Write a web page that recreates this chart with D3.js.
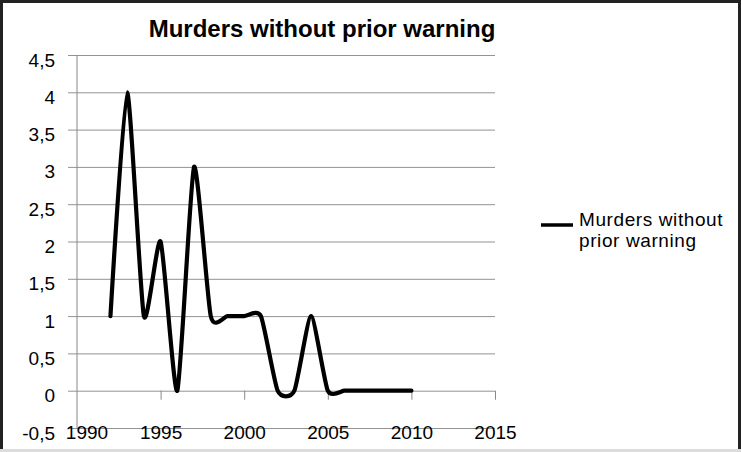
<!DOCTYPE html>
<html>
<head>
<meta charset="utf-8">
<script src="https://cdn.jsdelivr.net/npm/d3@7"></script>
<style>
  html, body { margin: 0; padding: 0; background: #fff; }
  svg { display: block; }
  text { font-family: "Liberation Sans", Arial, Helvetica, sans-serif; fill: #000; }
</style>
</head>
<body>
<svg id="chart" width="741" height="452"></svg>
<script>
// Yearly counts of murders committed without prior warning
const years = [1992, 1993, 1994, 1995, 1996, 1997, 1998, 1999, 2000, 2001,
               2002, 2003, 2004, 2005, 2006, 2007, 2008, 2009, 2010];
const murders = [1, 4, 1, 2, 0, 3, 1, 1, 1, 1,
                 0, 0, 1, 0, 0, 0, 0, 0, 0];

const xTicks = [1990, 1995, 2000, 2005, 2010, 2015];
const yTicks = [-0.5, 0, 0.5, 1, 1.5, 2, 2.5, 3, 3.5, 4, 4.5];

const chartTitle = "Murders without prior warning";
const seriesName = ["Murders without", "prior warning"];

const W = 741, H = 452;
const svg = d3.select("#chart");

// white card with dark frame on three sides, light strip at the bottom
svg.append("rect").attr("x", 0).attr("y", 0).attr("width", W).attr("height", H).attr("fill", "#fff");
svg.append("rect").attr("x", 0).attr("y", 449).attr("width", W).attr("height", 3).attr("fill", "#dcdcdc");
svg.append("path")
  .attr("d", `M1.5,449 V1.5 H739.5 V449`)
  .attr("fill", "none").attr("stroke", "#222").attr("stroke-width", 3);

const x = d3.scaleLinear().domain([1990, 2015]).range([77, 495]);
const y = d3.scaleLinear().domain([-0.5, 4.5]).range([428, 55]);

const fmt = d => String(d).replace(".", ",");

// horizontal gridlines + value labels
const yAxis = svg.append("g")
  .attr("transform", `translate(${x(1990)},0)`)
  .call(d3.axisLeft(y).tickValues(yTicks).tickSize(0).tickPadding(0).tickFormat(fmt));
yAxis.select(".domain").remove();
yAxis.selectAll(".tick line")
  .attr("x1", -9).attr("x2", x(2015) - x(1990))
  .attr("stroke", "#939393").attr("stroke-width", 1);
yAxis.selectAll(".tick text")
  .attr("x", -22).attr("y", 11).attr("dy", null)
  .attr("font-size", 19).attr("text-anchor", "end");

// vertical axis line
svg.append("line")
  .attr("x1", x(1990)).attr("x2", x(1990))
  .attr("y1", y(4.5)).attr("y2", y(-0.5))
  .attr("stroke", "#888").attr("stroke-width", 1);

// year ticks hanging from the zero line
const xTickAxis = svg.append("g")
  .attr("transform", `translate(0,${y(0)})`)
  .call(d3.axisBottom(x).tickValues(xTicks.slice(1)).tickSize(9).tickFormat(""));
xTickAxis.select(".domain").remove();
xTickAxis.selectAll(".tick line").attr("stroke", "#888");

// year labels along the bottom gridline
const xLabelAxis = svg.append("g")
  .attr("transform", `translate(0,${y(-0.5)})`)
  .call(d3.axisBottom(x).tickValues(xTicks).tickSize(0).tickFormat(d3.format("d")));
xLabelAxis.select(".domain").remove();
xLabelAxis.selectAll(".tick line").remove();
xLabelAxis.selectAll(".tick text")
  .attr("y", 11).attr("dy", null)
  .attr("font-size", 19)
  .attr("dx", d => d === 1990 ? 9.5 : 0);

// smoothed series line
const line = d3.line()
  .x((d, i) => x(years[i]))
  .y(d => y(d))
  .curve(d3.curveCardinal.tension(0.4));

svg.append("path")
  .datum(murders)
  .attr("d", line)
  .attr("fill", "none")
  .attr("stroke", "#000")
  .attr("stroke-width", 4.2)
  .attr("stroke-linejoin", "round")
  .attr("stroke-linecap", "round");

// title
svg.append("text")
  .attr("x", 322).attr("y", 37)
  .attr("text-anchor", "middle")
  .attr("font-size", 24).attr("font-weight", "bold")
  .text(chartTitle);

// legend
svg.append("line")
  .attr("x1", 541).attr("x2", 573).attr("y1", 225).attr("y2", 225)
  .attr("stroke", "#000").attr("stroke-width", 3.5);
svg.append("text")
  .attr("x", 579).attr("y", 226)
  .attr("font-size", 19)
  .attr("letter-spacing", 0.6)
  .selectAll("tspan").data(seriesName).join("tspan")
  .attr("x", 579)
  .attr("dy", (d, i) => i === 0 ? 0 : 21)
  .text(d => d);
</script>
</body>
</html>
